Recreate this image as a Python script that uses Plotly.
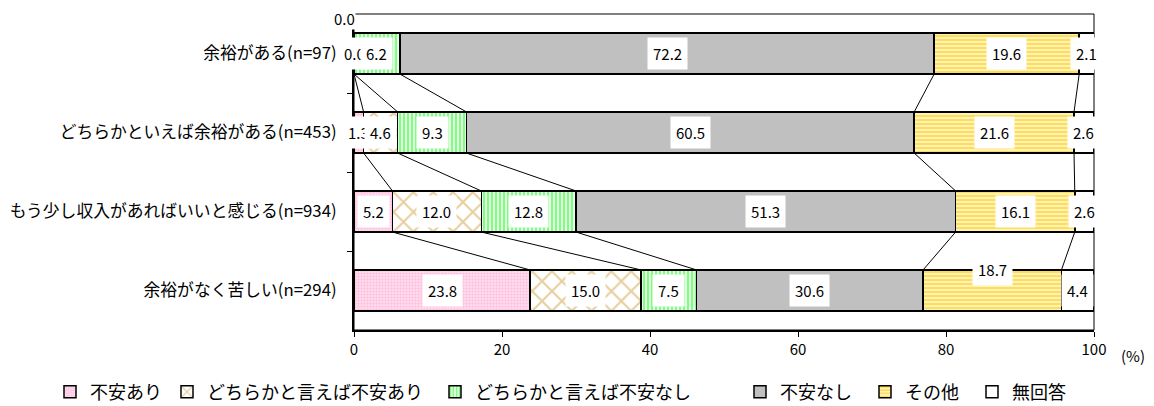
import plotly.graph_objects as go

categories = ['余裕がある(n=97)', 'どちらかといえば余裕がある(n=453)',
              'もう少し収入があればいいと感じる(n=934)', '余裕がなく苦しい(n=294)']
series_names = ['不安あり', 'どちらかと言えば不安あり', 'どちらかと言えば不安なし',
                '不安なし', 'その他', '無回答']

anshin_ari = [0.0, 1.3, 5.2, 23.8]
dochira_ari = [0.0, 4.6, 12.0, 15.0]
dochira_nashi = [6.2, 9.3, 12.8, 7.5]
anshin_nashi = [72.2, 60.5, 51.3, 30.6]
sonota = [19.6, 21.6, 16.1, 18.7]
mukaito = [2.1, 2.6, 2.6, 4.4]

x_ticks = [0, 20, 40, 60, 80, 100]

series = [anshin_ari, dochira_ari, dochira_nashi, anshin_nashi, sonota, mukaito]

FONT = 'Noto Sans CJK JP'
BAR_W = 0.52
# the page body has an 8px margin, so the figure is drawn 8px smaller
PAD = 8
W, H = 1154 - PAD, 406 - PAD

styles = [
    dict(color='#FFD0E8', pattern=dict(shape='.', fgcolor='#FF9FCF', bgcolor='#FFE2F0', size=3, solidity=0.5)),
    dict(color='white', pattern=dict(shape='x', fgcolor='#CFA040', bgcolor='white', size=14, solidity=0.28)),
    dict(color='white', pattern=dict(shape='|', fgcolor='#00FF00', bgcolor='white', size=4, solidity=0.6)),
    dict(color='#C0C0C0'),
    dict(color='#FFE070', pattern=dict(shape='-', fgcolor='#FFC800', bgcolor='#FFF2B8', size=4, solidity=0.5)),
    dict(color='white'),
]

# left edge (px) of each legend entry text
legend_text_x = [90, 207, 475, 780, 905, 1012]

ypos = list(range(len(categories)))

fig = go.Figure()

for n, (name, vals, st) in enumerate(zip(series_names, series, styles)):
    marker = dict(color=st['color'], line=dict(color='black', width=1.5))
    if 'pattern' in st:
        marker['pattern'] = st['pattern']
    lg = 'legend' if n == 0 else f'legend{n + 1}'
    fig.add_trace(go.Bar(y=ypos, x=vals, name=name, orientation='h', legend=lg,
                         width=BAR_W, marker=marker, hoverinfo='x+name'))

# cumulative boundaries per row
cums = []
for i in ypos:
    c, row = 0.0, []
    for s in series:
        c += s[i]
        row.append(c)
    cums.append(row)

# series lines between bars
lx, ly = [], []
for i in ypos[:-1]:
    for k in range(len(series) - 1):
        lx += [cums[i][k], cums[i + 1][k], None]
        ly += [i + BAR_W / 2, i + 1 - BAR_W / 2, None]
fig.add_trace(go.Scatter(x=lx, y=ly, mode='lines', line=dict(color='black', width=1),
                         showlegend=False, hoverinfo='skip'))

# data labels
for i in ypos:
    start = 0.0
    for k, s in enumerate(series):
        v = s[i]
        ann = dict(x=start + v / 2, y=i, text=f'{v:.1f}', showarrow=False,
                   xanchor='center', yanchor='middle',
                   bgcolor='white', borderpad=5, font=dict(family=FONT, size=15, color='black'))
        if i == 0 and k == 0:
            # label moved above the plot in the original
            ann.update(y=-0.5, xshift=-10, yshift=-4, borderpad=0)
        if i == 3 and k == 4:
            ann.update(yshift=21)
        fig.add_annotation(**ann)
        start += v

fig.add_annotation(x=1.0716, y=0, xref='paper', yref='paper', text='(%)', showarrow=False,
                   xanchor='right', yanchor='top', yshift=-13,
                   font=dict(family=FONT, size=15, color='black'))

fig.add_shape(type='rect', xref='paper', yref='paper', x0=0, x1=1, y0=0, y1=1,
              line=dict(color='black', width=1), layer='below')

legends = {}
for n, tx in enumerate(legend_text_x):
    key = 'legend' if n == 0 else f'legend{n + 1}'
    legends[key] = dict(orientation='h', xref='container', yref='container',
                        x=(tx - 40 - PAD) / W, y=1 - (392 - PAD) / H,
                        xanchor='left', yanchor='middle',
                        font=dict(size=18), bgcolor='rgba(0,0,0,0)')

fig.update_layout(
    barmode='stack',
    width=W, height=H,
    margin=dict(l=354 - PAD, r=60, t=14 - PAD, b=76, autoexpand=False),
    plot_bgcolor='white', paper_bgcolor='white',
    font=dict(family=FONT, size=16, color='black'),
    showlegend=True,
    **legends,
)
fig.update_xaxes(range=[0, 100], tickvals=x_ticks, showgrid=False, zeroline=False,
                 showline=True, linecolor='black', linewidth=2, ticks='outside',
                 ticklen=5, tickcolor='black', tickfont=dict(size=15), automargin=False)
fig.update_yaxes(range=[3.5, -0.5], tickvals=ypos, ticktext=categories, showgrid=False,
                 zeroline=False, showline=True, linecolor='black', linewidth=2,
                 ticks='', ticklabelstandoff=12, tickfont=dict(size=16.8), automargin=False,
                 minor=dict(tickvals=[0.5, 1.5, 2.5], ticks='outside', ticklen=5,
                            tickcolor='black'))

fig.write_html('out.html')
